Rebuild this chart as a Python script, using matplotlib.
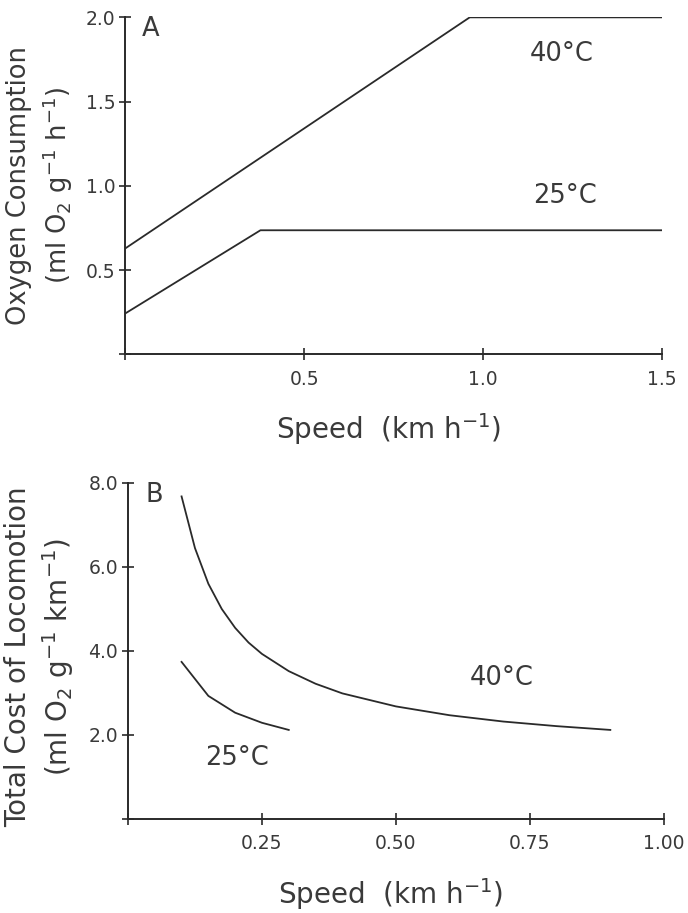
import matplotlib.pyplot as plt
import numpy as np

plt.rcParams["font.family"] = ["DejaVu Sans"]
plt.rcParams["mathtext.fontset"] = "dejavusans"

# Panel A: oxygen consumption vs speed (piecewise lines)
speed_a_40 = [0.0, 0.963, 1.5]
o2_40 = [0.628, 2.0, 2.0]
speed_a_25 = [0.0, 0.378, 1.5]
o2_25 = [0.242, 0.736, 0.736]

# Panel B: total cost of locomotion vs speed
speed_b_40 = [0.10, 0.125, 0.15, 0.175, 0.20, 0.225, 0.25, 0.30, 0.35, 0.40,
              0.50, 0.60, 0.70, 0.80, 0.90]
cost_40 = [7.68, 6.45, 5.60, 5.00, 4.55, 4.20, 3.93, 3.52, 3.22, 2.99,
           2.68, 2.47, 2.32, 2.21, 2.12]
speed_b_25 = [0.10, 0.15, 0.20, 0.25, 0.30]
cost_25 = [3.74, 2.93, 2.53, 2.29, 2.12]

xticks_a = [0.0, 0.5, 1.0, 1.5]
xticklabels_a = ["", "0.5", "1.0", "1.5"]
yticks_a = [0.0, 0.5, 1.0, 1.5, 2.0]
yticklabels_a = ["", "0.5", "1.0", "1.5", "2.0"]
xticks_b = [0.0, 0.25, 0.50, 0.75, 1.00]
xticklabels_b = ["", "0.25", "0.50", "0.75", "1.00"]
yticks_b = [0.0, 2.0, 4.0, 6.0, 8.0]
yticklabels_b = ["", "2.0", "4.0", "6.0", "8.0"]

fig = plt.figure(figsize=(6.88, 9.13), dpi=100)
ax_a = fig.add_axes([0.182, 0.612, 0.780, 0.369])
ax_b = fig.add_axes([0.186, 0.103, 0.779, 0.368])

lc = "#2a2a2a"
tc = "#3a3a3a"
for ax in (ax_a, ax_b):
    for s in ("top", "right"):
        ax.spines[s].set_visible(False)
    for s in ("left", "bottom"):
        ax.spines[s].set_linewidth(1.4)
        ax.spines[s].set_color(lc)
    ax.tick_params(direction="inout", length=8, width=1.2, colors=lc,
                   labelsize=13.5, labelcolor=tc)
    ax.tick_params(axis="x", pad=7)
    ax.tick_params(axis="y", pad=3)

ax_a.plot(speed_a_40, o2_40, color=lc, lw=1.3)
ax_a.plot(speed_a_25, o2_25, color=lc, lw=1.3)
ax_a.set_xlim(0, 1.5)
ax_a.set_ylim(0, 2.0)
ax_a.set_xticks(xticks_a)
ax_a.set_xticklabels(xticklabels_a)
ax_a.set_yticks(yticks_a)
ax_a.set_yticklabels(yticklabels_a)
ax_a.text(1.22, 1.78, "40°C", fontsize=18.5, color=tc, ha="center", va="center")
ax_a.text(1.23, 0.94, "25°C", fontsize=18.5, color=tc, ha="center", va="center")
ax_a.text(0.045, 1.93, "A", fontsize=18.5, color=tc, ha="left", va="center")
ax_a.set_xlabel("Speed  (km h$^{-1}$)", fontsize=20, color=tc)
ax_a.xaxis.set_label_coords(0.49, -0.17)
ax_a.set_ylabel("Oxygen Consumption\n(ml O$_2$ g$^{-1}$ h$^{-1}$)", fontsize=18.5,
                color=tc, linespacing=1.35)
ax_a.yaxis.set_label_coords(-0.093, 0.5)

ax_b.plot(speed_b_40, cost_40, color=lc, lw=1.3)
ax_b.plot(speed_b_25, cost_25, color=lc, lw=1.3)
ax_b.set_xlim(0, 1.0)
ax_b.set_ylim(0, 8.0)
ax_b.set_xticks(xticks_b)
ax_b.set_xticklabels(xticklabels_b)
ax_b.set_yticks(yticks_b)
ax_b.set_yticklabels(yticklabels_b)
ax_b.text(0.698, 3.36, "40°C", fontsize=18.5, color=tc, ha="center", va="center")
ax_b.text(0.203, 1.45, "25°C", fontsize=18.5, color=tc, ha="center", va="center")
ax_b.text(0.032, 7.71, "B", fontsize=18.5, color=tc, ha="left", va="center")
ax_b.set_xlabel("Speed  (km h$^{-1}$)", fontsize=20, color=tc)
ax_b.xaxis.set_label_coords(0.49, -0.17)
ax_b.set_ylabel("Total Cost of Locomotion\n(ml O$_2$ g$^{-1}$ km$^{-1}$)", fontsize=20,
                color=tc, linespacing=1.3)
ax_b.yaxis.set_label_coords(-0.097, 0.482)

fig.savefig("out.png", dpi=100)
